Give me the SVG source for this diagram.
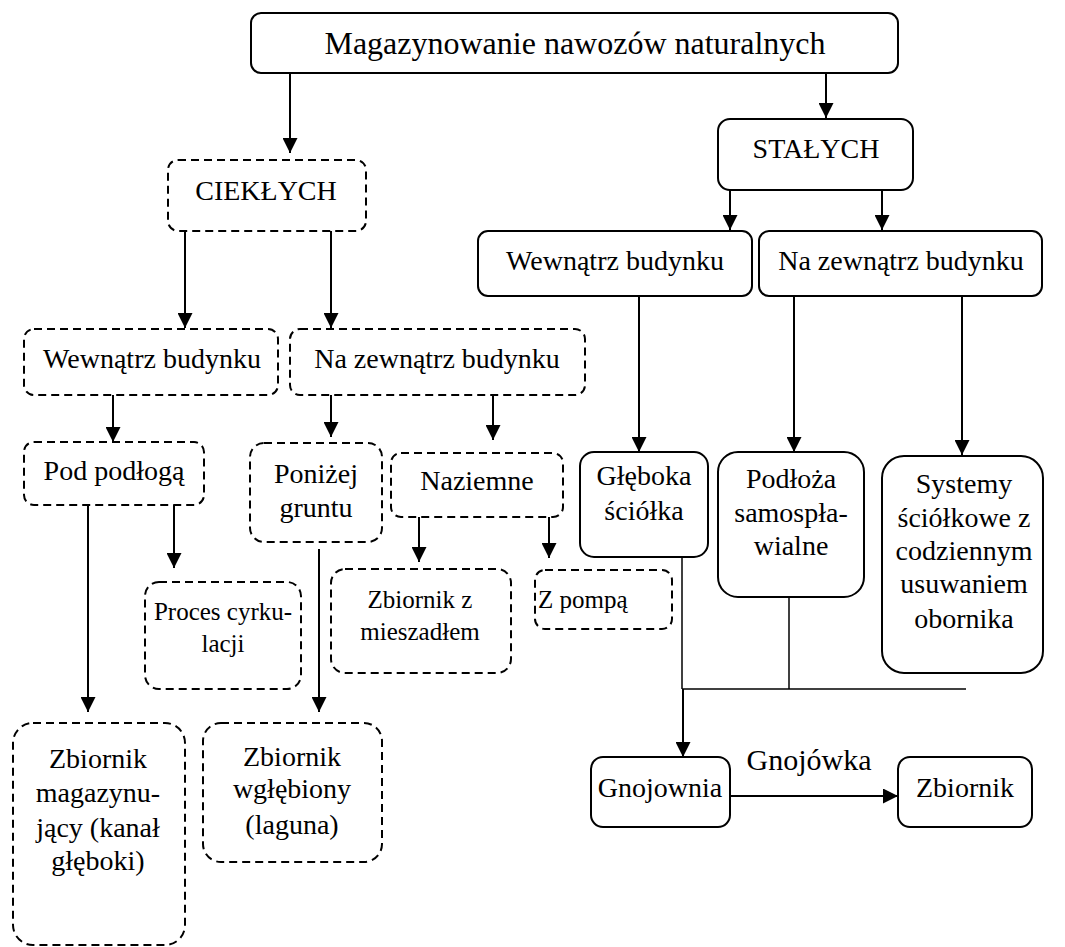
<svg xmlns="http://www.w3.org/2000/svg" width="1065" height="947" viewBox="0 0 1065 947">
<style>
.box{fill:#fff;stroke:#000;stroke-width:2}
.dash{fill:#fff;stroke:#000;stroke-width:2;stroke-dasharray:8 5}
text{font-family:'Liberation Serif','Times New Roman',serif;font-size:28px;fill:#000;text-anchor:middle}
.sm{font-size:25px}
.c{stroke:#000;stroke-width:2;fill:none}
.a{marker-end:url(#ah)}
.t{stroke-width:1.5}
</style>
<defs>
<marker id="ah" markerUnits="userSpaceOnUse" markerWidth="15" markerHeight="15" refX="15" refY="7.5" orient="auto">
<path d="M0,0 L15,7.5 L0,15 z" fill="#000"/>
</marker>
</defs>
<g id="connectors">
<line class="c a" x1="290" y1="73" x2="290" y2="153"/>
<line class="c a" x1="826" y1="73" x2="826" y2="118"/>
<line class="c a" x1="185" y1="231" x2="185" y2="328"/>
<line class="c a" x1="331" y1="231" x2="331" y2="328"/>
<line class="c a" x1="730" y1="190" x2="730" y2="230"/>
<line class="c a" x1="882" y1="190" x2="882" y2="230"/>
<line class="c a" x1="113" y1="395" x2="113" y2="442"/>
<line class="c a" x1="331" y1="395" x2="331" y2="437"/>
<line class="c a" x1="493" y1="395" x2="493" y2="440"/>
<line class="c a" x1="174" y1="505" x2="174" y2="568"/>
<line class="c a" x1="88" y1="501" x2="88" y2="712"/>
<line class="c a" x1="319" y1="549" x2="319" y2="712"/>
<line class="c a" x1="419" y1="517" x2="419" y2="562"/>
<line class="c a" x1="549" y1="517" x2="549" y2="558"/>
<line class="c a" x1="639" y1="296" x2="639" y2="452"/>
<line class="c a" x1="794" y1="296" x2="794" y2="452"/>
<line class="c a" x1="962" y1="296" x2="962" y2="455"/>
<line class="c t" x1="682" y1="557" x2="682" y2="689"/>
<line class="c t" x1="789" y1="597" x2="789" y2="689"/>
<line class="c t" x1="682" y1="689" x2="966" y2="689"/>
<line class="c a" x1="683" y1="689" x2="683" y2="757"/>
<line class="c a" x1="728" y1="796" x2="898" y2="796"/>
<text x="809" y="770" style="font-size:30px">Gnojówka</text>
</g>
<g id="root"><rect class="box" x="251" y="13" width="647" height="60" rx="10"/><text x="575" y="54" style="font-size:32px">Magazynowanie nawozów naturalnych</text></g>
<g id="ciekle"><rect class="dash" x="168" y="160" width="198" height="71" rx="10"/><text x="266" y="200">CIEKŁYCH</text></g>
<g id="stale"><rect class="box" x="718" y="119" width="195" height="71" rx="12"/><text x="816" y="158">STAŁYCH</text></g>
<g id="c-wew"><rect class="dash" x="24" y="329" width="254" height="66" rx="10"/><text x="152" y="368">Wewnątrz budynku</text></g>
<g id="c-zew"><rect class="dash" x="290" y="329" width="295" height="66" rx="10"/><text x="437" y="368">Na zewnątrz budynku</text></g>
<g id="s-wew"><rect class="box" x="478" y="231" width="274" height="65" rx="10"/><text x="615" y="270">Wewnątrz budynku</text></g>
<g id="s-zew"><rect class="box" x="759" y="231" width="283" height="65" rx="10"/><text x="901" y="270">Na zewnątrz budynku</text></g>
<g id="pod"><rect class="dash" x="24" y="442" width="180" height="63" rx="10"/><text x="114" y="480">Pod podłogą</text></g>
<g id="ponizej"><rect class="dash" x="250" y="443" width="132" height="99" rx="14"/><text x="316" y="483">Poniżej</text><text x="316" y="517">gruntu</text></g>
<g id="naziemne"><rect class="dash" x="391" y="453" width="172" height="64" rx="10"/><text x="477" y="490">Naziemne</text></g>
<g id="proces"><rect class="dash" x="145" y="582" width="156" height="107" rx="14"/><text class="sm" x="223" y="620">Proces cyrku-</text><text class="sm" x="223" y="652">lacji</text></g>
<g id="mieszadlo"><rect class="dash" x="331" y="569" width="180" height="104" rx="14"/><text class="sm" x="420" y="608">Zbiornik z</text><text class="sm" x="420" y="640">mieszadłem</text></g>
<g id="pompa"><rect class="dash" x="535" y="570" width="137" height="59" rx="10"/><text class="sm" x="538" y="608" style="text-anchor:start">Z pompą</text></g>
<g id="kanal"><rect class="dash" x="13" y="723" width="172" height="222" rx="20"/><text x="98" y="768">Zbiornik</text><text x="98" y="802">magazynu-</text><text x="98" y="837">jący (kanał</text><text x="98" y="870">głęboki)</text></g>
<g id="laguna"><rect class="dash" x="203" y="723" width="179" height="139" rx="18"/><text x="292" y="766">Zbiornik</text><text x="292" y="798">wgłębiony</text><text x="292" y="834">(laguna)</text></g>
<g id="gleboka"><rect class="box" x="580" y="452" width="128" height="105" rx="14"/><text x="644" y="485">Głęboka</text><text x="644" y="520">ściółka</text></g>
<g id="podloza"><rect class="box" x="718" y="452" width="146" height="145" rx="20"/><text x="791" y="488">Podłoża</text><text x="791" y="522">samospła-</text><text x="791" y="555">wialne</text></g>
<g id="systemy"><rect class="box" x="882" y="456" width="161" height="217" rx="22"/><text x="964" y="493">Systemy</text><text x="964" y="527">ściółkowe z</text><text x="964" y="560">codziennym</text><text x="964" y="593">usuwaniem</text><text x="964" y="628">obornika</text></g>
<g id="gnojownia"><rect class="box" x="591" y="757" width="139" height="70" rx="12"/><text x="660" y="797">Gnojownia</text></g>
<g id="zbiornik"><rect class="box" x="898" y="757" width="134" height="70" rx="12"/><text x="965" y="797">Zbiornik</text></g>
</svg>
